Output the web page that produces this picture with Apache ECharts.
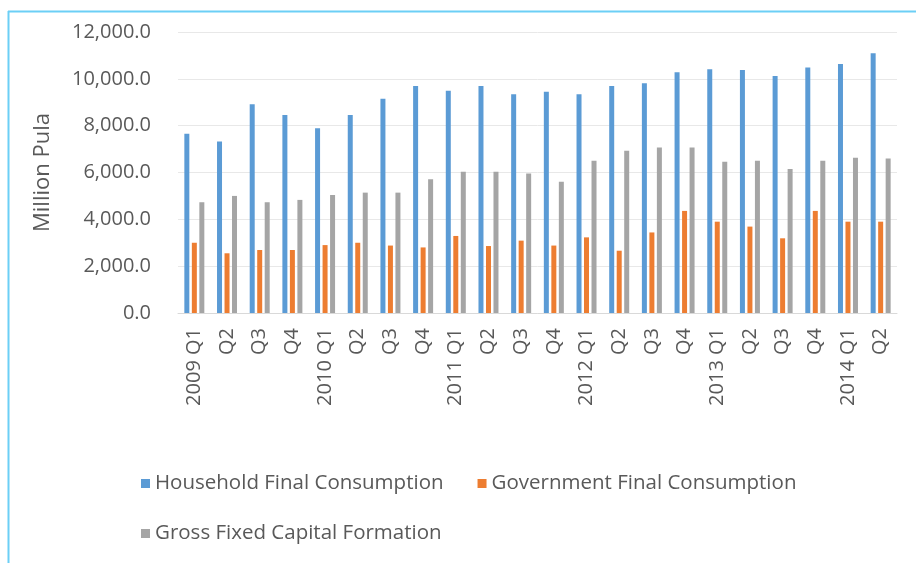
<!DOCTYPE html>
<html>
<head>
<meta charset="utf-8">
<script src="https://cdn.jsdelivr.net/npm/echarts@6/dist/echarts.min.js"></script>
<style>
html,body{margin:0;padding:0;background:#fff;}
#c{width:916px;height:563px;}
</style>
</head>
<body>
<div id="c"></div>
<script>
const categories = ["2009 Q1","Q2","Q3","Q4","2010 Q1","Q2","Q3","Q4","2011 Q1","Q2","Q3","Q4","2012 Q1","Q2","Q3","Q4","2013 Q1","Q2","Q3","Q4","2014 Q1","Q2"];
const household = [7650,7320,8910,8460,7890,8460,9150,9690,9490,9690,9340,9450,9340,9690,9810,10280,10410,10380,10120,10480,10630,11090];
const government = [3000,2550,2690,2690,2900,3000,2880,2800,3290,2860,3090,2880,3230,2660,3440,4360,3900,3690,3190,4360,3900,3900];
const gfcf = [4730,5000,4730,4830,5040,5140,5140,5710,6030,6030,5960,5610,6500,6930,7070,7070,6460,6500,6150,6500,6630,6600];
const yTicks = {min:0, max:12000, interval:2000};
const seriesNames = ["Household Final Consumption","Government Final Consumption","Gross Fixed Capital Formation"];

const FONT = "'Open Sans', 'Noto Sans', sans-serif";
const TXT = '#595959';
const chart = echarts.init(document.getElementById('c'), null, {renderer:'canvas'});
const fmt = v => v.toLocaleString('en-US',{minimumFractionDigits:1, maximumFractionDigits:1});
chart.setOption({
  animation:false,
  backgroundColor:'#ffffff',
  color:['#5b9bd5','#ed7d31','#a5a5a5'],
  textStyle:{fontFamily:FONT},
  grid:{left:178, right:19, top:32, bottom:250, containLabel:false},
  legend:[
    {data:[seriesNames[0],seriesNames[1]], left:136, top:468, icon:'rect', itemWidth:9, itemHeight:9, itemGap:34,
     textStyle:{color:TXT, fontSize:20.5, fontFamily:FONT}},
    {data:[seriesNames[2]], left:136, top:518, icon:'rect', itemWidth:9, itemHeight:9,
     textStyle:{color:TXT, fontSize:20.5, fontFamily:FONT}}
  ],
  xAxis:{type:'category', data:categories,
    axisLine:{show:true, lineStyle:{color:'#d9d9d9'}},
    axisTick:{show:false},
    axisLabel:{rotate:90, interval:0, color:TXT, fontSize:20, fontFamily:FONT, margin:15}
  },
  yAxis:{type:'value', min:yTicks.min, max:yTicks.max, interval:yTicks.interval,
    name:'Million Pula', nameLocation:'middle', nameGap:124, nameRotate:90,
    nameTextStyle:{color:TXT, fontSize:22, fontFamily:FONT},
    axisLine:{show:false}, axisTick:{show:false},
    splitLine:{lineStyle:{color:'#e8e8e8'}},
    axisLabel:{color:TXT, fontSize:20, fontFamily:FONT, margin:27, formatter:fmt}
  },
  series:[
    {name:seriesNames[0], type:'bar', data:household, barWidth:5, barGap:'50%'},
    {name:seriesNames[1], type:'bar', data:government, barWidth:5, barGap:'50%'},
    {name:seriesNames[2], type:'bar', data:gfcf, barWidth:5, barGap:'50%'}
  ],
  graphic:[
    {type:'line', shape:{x1:8, y1:11.5, x2:916, y2:11.5}, style:{stroke:'#6ccff6', lineWidth:2}},
    {type:'line', shape:{x1:8.5, y1:11, x2:8.5, y2:563}, style:{stroke:'#6ccff6', lineWidth:2}}
  ]
});
</script>
</body>
</html>
